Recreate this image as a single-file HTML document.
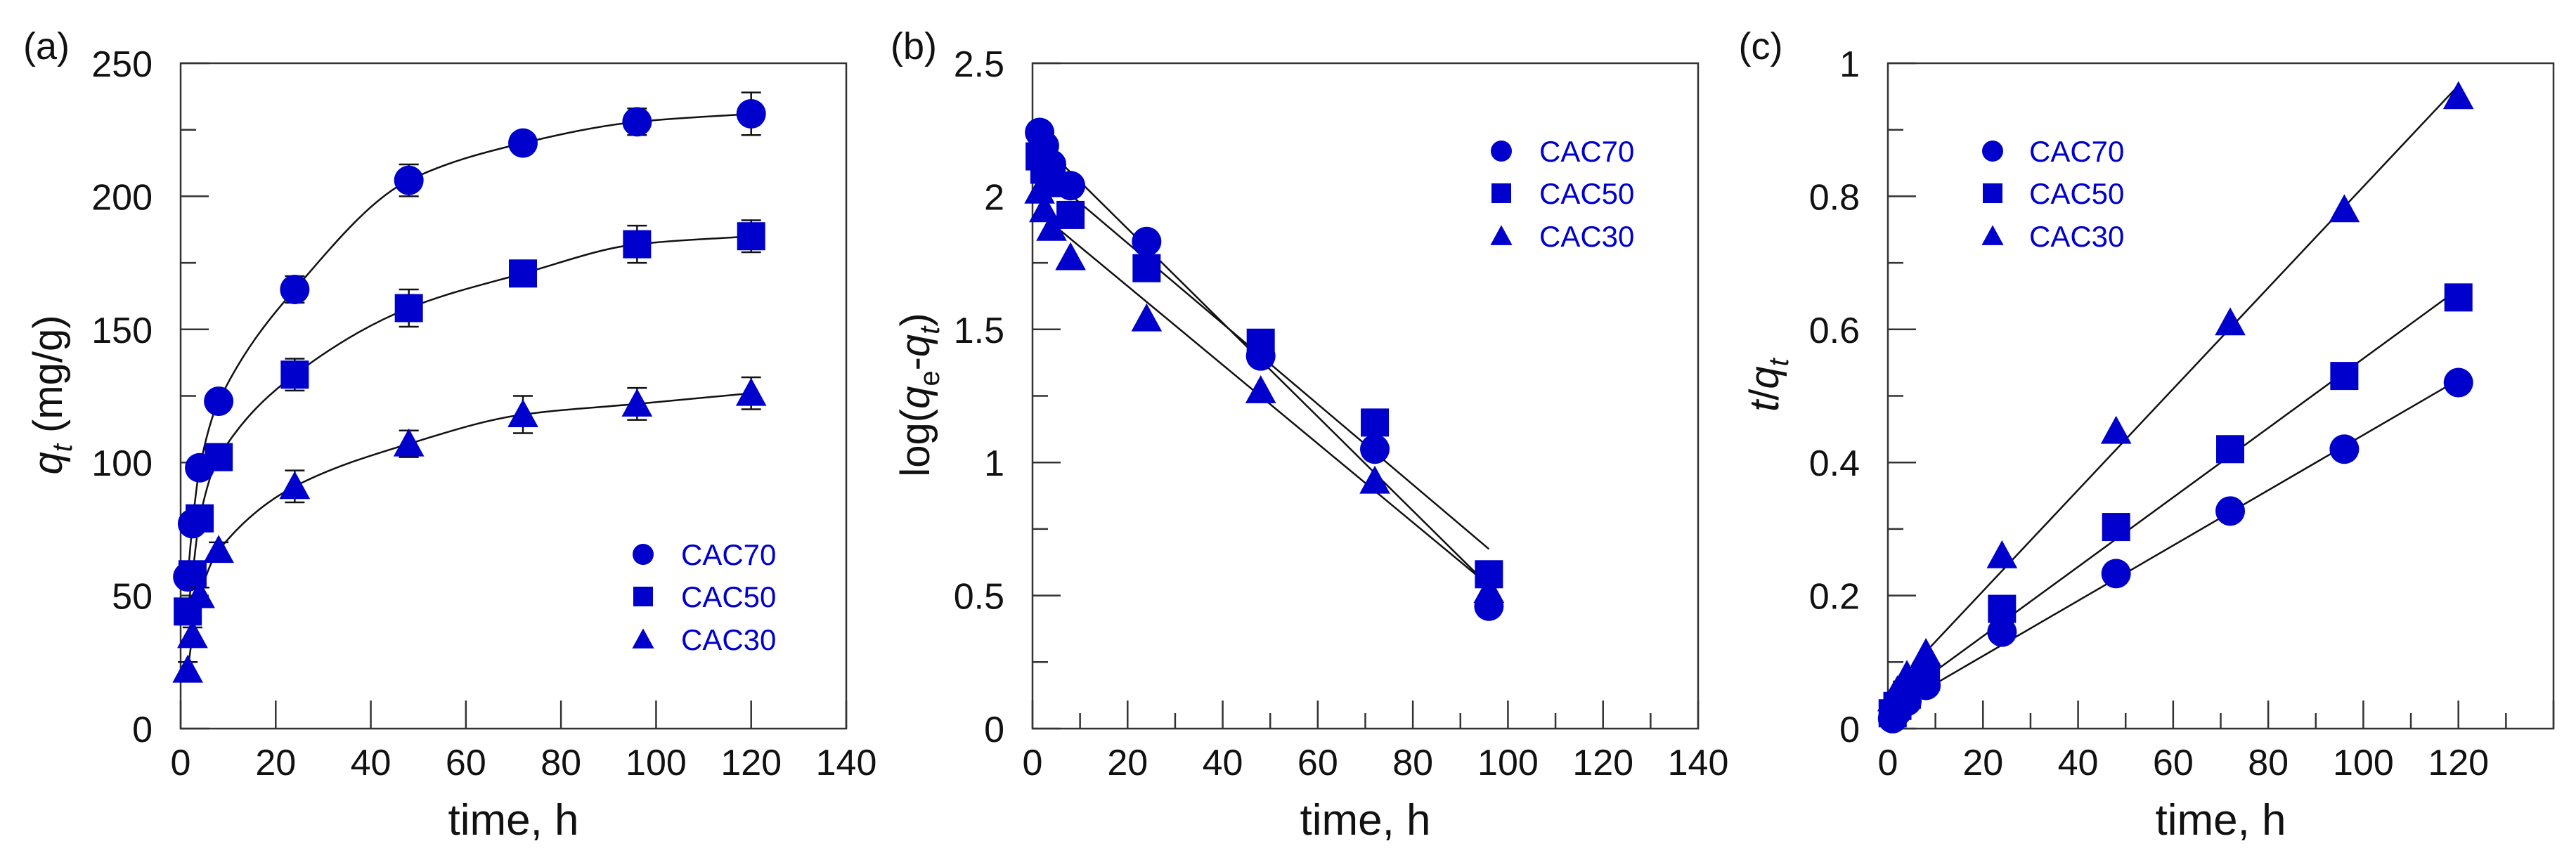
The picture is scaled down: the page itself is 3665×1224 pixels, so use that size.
<!DOCTYPE html>
<html><head><meta charset="utf-8"><style>
html,body{margin:0;padding:0;background:#fff;}
svg{display:block;font-family:"Liberation Sans",Arial,sans-serif;}
</style></head><body>
<svg id="fig" width="3665" height="1224" viewBox="0 0 3665 1224" xmlns="http://www.w3.org/2000/svg"></svg>
<script>
// ---- Panel (a) data: q_t vs time ----
const timeA = [1.5, 2.5, 4, 8, 24, 48, 72, 96, 120];
const qtCAC70 = [57, 77, 98, 123, 165, 206, 220, 228, 231];
const qtCAC50 = [44, 58, 79, 102, 133, 158, 171, 182, 185];
const qtCAC30 = [22, 35, 50, 67, 91, 107, 118, 122, 126];
const errCAC70 = [3, 3, 3, 3, 5, 6, 3, 5, 8];
const errCAC50 = [3, 3, 3, 3, 6, 7, 3, 7, 6];
const errCAC30 = [3, 3, 3, 3, 6, 5, 7, 6, 6];
// ---- Panel (b) data: log(qe-qt) vs time ----
const timeB = [1.5, 2.5, 4, 8, 24, 48, 72, 96];
const logCAC70 = [2.24, 2.19, 2.12, 2.04, 1.83, 1.40, 1.05, 0.46];
const logCAC50 = [2.15, 2.10, 2.05, 1.93, 1.73, 1.45, 1.15, 0.58];
const logCAC30 = [2.02, 1.95, 1.88, 1.77, 1.54, 1.27, 0.93, 0.52];
// ---- Panel (c) data: t/qt vs time ----
const timeC = [1, 2, 4, 8, 24, 48, 72, 96, 120];
const tqCAC70 = [0.015, 0.026, 0.041, 0.065, 0.145, 0.233, 0.327, 0.42, 0.52];
const tqCAC50 = [0.023, 0.034, 0.051, 0.078, 0.18, 0.303, 0.42, 0.53, 0.648];
const tqCAC30 = [0.045, 0.057, 0.08, 0.113, 0.26, 0.447, 0.61, 0.78, 0.95];
// ---- Tick labels ----
const xTicksAB = [0, 20, 40, 60, 80, 100, 120, 140];
const xTicksC = [0, 20, 40, 60, 80, 100, 120];
const yTicksA = [0, 50, 100, 150, 200, 250];
const yTicksB = [0, 0.5, 1, 1.5, 2, 2.5];
const yTicksC = [0, 0.2, 0.4, 0.6, 0.8, 1];
const seriesNames = ["CAC70", "CAC50", "CAC30"];

const NS = "http://www.w3.org/2000/svg";
const svg = document.getElementById("fig");
const BLUE = "#0000CC";
function el(tag, attrs, parent) {
  const e = document.createElementNS(NS, tag);
  for (const k in attrs) e.setAttribute(k, attrs[k]);
  (parent || svg).appendChild(e);
  return e;
}
function marker(g, shape, cx, cy, s) {
  let m;
  if (shape === "circle") m = el("circle", {cx: cx, cy: cy, r: s * 0.5, fill: BLUE}, g);
  else if (shape === "square") m = el("rect", {x: cx - s * 0.5, y: cy - s * 0.5, width: s, height: s, fill: BLUE}, g);
  else { const h = s * 0.95; m = el("polygon", {points: `${cx},${cy - h * 0.55} ${cx - s * 0.52},${cy + h * 0.45} ${cx + s * 0.52},${cy + h * 0.45}`, fill: BLUE}, g); }
  return m;
}
function regress(xs, ys) {
  const n = xs.length; let sx = 0, sy = 0, sxx = 0, sxy = 0;
  for (let i = 0; i < n; i++) { sx += xs[i]; sy += ys[i]; sxx += xs[i] * xs[i]; sxy += xs[i] * ys[i]; }
  const b = (n * sxy - sx * sy) / (n * sxx - sx * sx); return {b: b, a: (sy - b * sx) / n};
}
function monotonePath(xs, ys, sx, sy) {
  const n = xs.length, d = [], m = [];
  for (let i = 0; i < n - 1; i++) d.push((ys[i + 1] - ys[i]) / (xs[i + 1] - xs[i]));
  m[0] = d[0]; m[n - 1] = d[n - 2];
  for (let i = 1; i < n - 1; i++) m[i] = d[i - 1] * d[i] <= 0 ? 0 : (2 * d[i - 1] * d[i]) / (d[i - 1] + d[i]);
  let p = `M${sx(xs[0])},${sy(ys[0])}`;
  for (let i = 0; i < n - 1; i++) {
    const h = xs[i + 1] - xs[i];
    p += ` C${sx(xs[i] + h / 3)},${sy(ys[i] + m[i] * h / 3)} ${sx(xs[i + 1] - h / 3)},${sy(ys[i + 1] - m[i + 1] * h / 3)} ${sx(xs[i + 1])},${sy(ys[i + 1])}`;
  }
  return p;
}

function panel(cfg) {
  const g = el("g", {});
  
  
  const L = cfg.left, R = cfg.left + 947, T = 90, B = 1037;
  const sx = v => L + (v - cfg.xmin) / (cfg.xmax - cfg.xmin) * (R - L);
  const sy = v => B - (v - cfg.ymin) / (cfg.ymax - cfg.ymin) * (B - T);
  const frame = el("rect", {x: L, y: T, width: R - L, height: B - T, fill: "none", stroke: "#333", "stroke-width": 2.5}, g);
  
  
  // x ticks
  for (let v = cfg.xmin; v <= cfg.xmax + 1e-9; v += cfg.xminor) {
    const major = Math.abs(v / 20 - Math.round(v / 20)) < 1e-6;
    if (!major && !cfg.xMinorShow) continue;
    el("line", {x1: sx(v), x2: sx(v), y1: B, y2: B - (major ? 40 : 22), stroke: "#333", "stroke-width": 2.5}, g);
  }
  cfg.xTicks.forEach(v => {
    const t = el("text", {x: sx(v), y: 1103, "font-size": 52, "text-anchor": "middle", fill: "#111"}, g);
    t.textContent = v;
    
    
  });
  // y ticks
  const nMinor = Math.round((cfg.ymax - cfg.ymin) / cfg.yminor);
  for (let i = 0; i <= nMinor; i++) {
    const v = cfg.ymin + i * cfg.yminor; const major = i % 2 === 0;
    el("line", {x1: L, x2: L + (major ? 40 : 22), y1: sy(v), y2: sy(v), stroke: "#333", "stroke-width": 2.5}, g);
  }
  cfg.yTicks.forEach(v => {
    const t = el("text", {x: L - 40, y: sy(v) + 19, "font-size": 52, "text-anchor": "end", fill: "#111"}, g);
    t.textContent = v;
    
    
  });
  // axis titles
  const xt = el("text", {x: (L + R) / 2, y: 1188, "font-size": 62, "text-anchor": "middle", fill: "#111"}, g);
  xt.textContent = "time, h";
  
  
  const yt = el("text", {x: 0, y: 0, "font-size": 58, "text-anchor": "middle", fill: "#111", transform: `translate(${cfg.ytx},${cfg.yty}) rotate(-90)`}, g);
  yt.innerHTML = cfg.ytitle;
  
  
  const pl = el("text", {x: cfg.labX, y: 84, "font-size": 54, "text-anchor": "middle", fill: "#111"}, g);
  pl.textContent = cfg.label;
  
  
  // fits
  cfg.series.forEach(s => {
    let p;
    if (cfg.fit === "curve") {
      p = el("path", {d: monotonePath(s.x, s.y, sx, sy), fill: "none", stroke: "#111", "stroke-width": 2.5}, g);
    } else {
      const r = regress(s.x, s.y);
      p = el("line", {x1: sx(cfg.fitFrom), y1: sy(r.a + r.b * cfg.fitFrom), x2: sx(cfg.fitTo), y2: sy(r.a + r.b * cfg.fitTo), stroke: "#111", "stroke-width": 2.5}, g);
    }
    
    
  });
  // error bars + markers
  cfg.series.forEach(s => {
    const sg = el("g", {}, g);
    
    
    s.x.forEach((xv, i) => {
      if (s.err) {
        const x = sx(xv), y1 = sy(s.y[i] - s.err[i]), y2 = sy(s.y[i] + s.err[i]);
        el("path", {d: `M${x},${y1}V${y2}M${x - 14},${y1}H${x + 14}M${x - 14},${y2}H${x + 14}`, stroke: "#111", "stroke-width": 2.5, fill: "none"}, sg);
      }
      const m = marker(sg, s.shape, sx(xv), sy(s.y[i]), s.shape === "square" ? 40 : 42);
      
      
    });
  });
  // legend
  const lg = el("g", {}, g);
  
  
  cfg.series.forEach((s, i) => {
    const y = cfg.legY[i];
    const m = marker(lg, s.shape, cfg.legMX, y, s.shape === "square" ? 28 : 30);
    
    
    const t = el("text", {x: cfg.legTX, y: y + 15, "font-size": 42, fill: BLUE}, lg);
    t.textContent = seriesNames[i];
    
    
  });
}

panel({name: "panel-a", left: 257, xmin: 0, xmax: 140, ymin: 0, ymax: 250, xminor: 20, xMinorShow: false, yminor: 25,
  xTicks: xTicksAB, yTicks: yTicksA, label: "(a)", labX: 66, ytx: 88, yty: 562,
  ytitle: '<tspan font-style="italic">q</tspan><tspan font-style="italic" font-size="40" dy="14">t</tspan><tspan dy="-14"> (mg/g)</tspan>',
  fit: "curve", legMX: 915, legTX: 969, legY: [789, 849, 910],
  series: [
    {label: "CAC70", shape: "circle", x: timeA, y: qtCAC70, err: errCAC70},
    {label: "CAC50", shape: "square", x: timeA, y: qtCAC50, err: errCAC50},
    {label: "CAC30", shape: "triangle", x: timeA, y: qtCAC30, err: errCAC30}]});

panel({name: "panel-b", left: 1469, xmin: 0, xmax: 140, ymin: 0, ymax: 2.5, xminor: 10, xMinorShow: true, yminor: 0.25,
  xTicks: xTicksAB, yTicks: yTicksB, label: "(b)", labX: 1300, ytx: 1322, yty: 562,
  ytitle: 'log(<tspan font-style="italic">q</tspan><tspan font-size="40" dy="14">e</tspan><tspan dy="-14">-</tspan><tspan font-style="italic">q</tspan><tspan font-style="italic" font-size="40" dy="14">t</tspan><tspan dy="-14">)</tspan>',
  fit: "line", fitFrom: 4, fitTo: 96, legMX: 2136, legTX: 2190, legY: [215, 275, 336],
  series: [
    {label: "CAC70", shape: "circle", x: timeB, y: logCAC70},
    {label: "CAC50", shape: "square", x: timeB, y: logCAC50},
    {label: "CAC30", shape: "triangle", x: timeB, y: logCAC30}]});

panel({name: "panel-c", left: 2686, xmin: 0, xmax: 140, ymin: 0, ymax: 1, xminor: 10, xMinorShow: true, yminor: 0.1,
  xTicks: xTicksC, yTicks: yTicksC, label: "(c)", labX: 2505, ytx: 2530, yty: 548,
  ytitle: '<tspan font-style="italic">t</tspan>/<tspan font-style="italic">q</tspan><tspan font-style="italic" font-size="40" dy="14">t</tspan>',
  fit: "line", fitFrom: 0, fitTo: 120, legMX: 2835, legTX: 2887, legY: [215, 275, 336],
  series: [
    {label: "CAC70", shape: "circle", x: timeC, y: tqCAC70},
    {label: "CAC50", shape: "square", x: timeC, y: tqCAC50},
    {label: "CAC30", shape: "triangle", x: timeC, y: tqCAC30}]});
</script>
</body></html>
